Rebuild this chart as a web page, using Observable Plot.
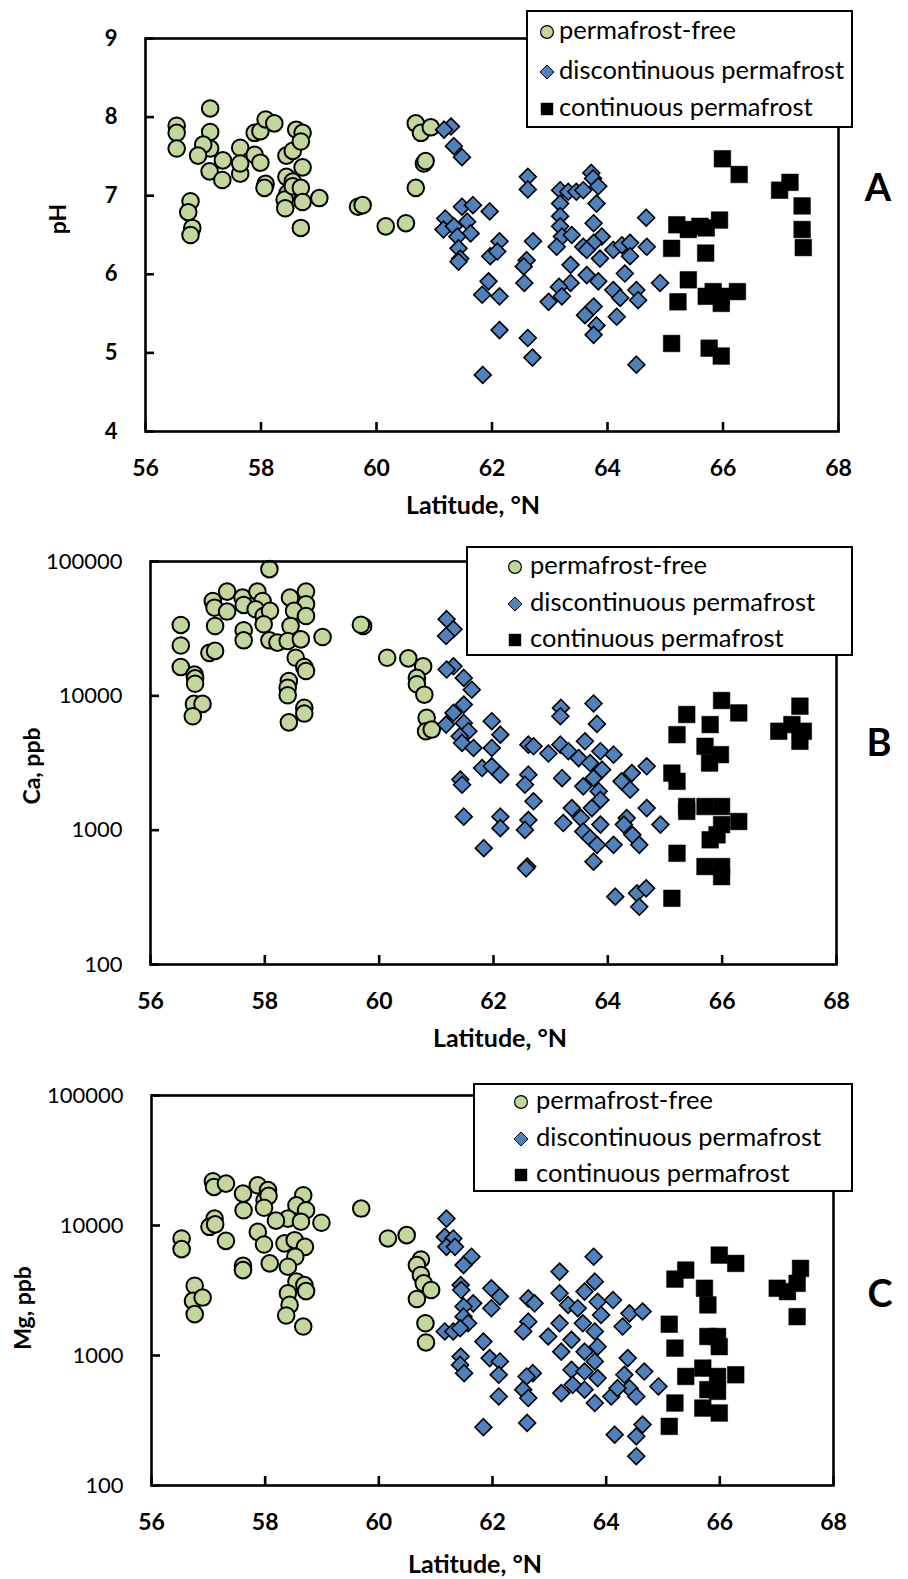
<!DOCTYPE html>
<html><head><meta charset="utf-8">
<script src="https://cdn.jsdelivr.net/npm/d3@7"></script>
<script src="https://cdn.jsdelivr.net/npm/@observablehq/plot@0.6"></script>
<style>
html,body{margin:0;padding:0;background:#fff;}
#root{position:relative;width:908px;height:1579px;overflow:hidden;font-family:Lato,"Open Sans",sans-serif;color:#000;}
.panel{position:absolute;left:0;}
.lbl{position:absolute;font-weight:bold;font-size:25px;white-space:nowrap;transform:translate(-50%,-50%);line-height:1;}
.ylbl{font-size:23px;transform:translate(-50%,-50%) rotate(-90deg);}
.letter{position:absolute;font-weight:bold;font-size:38px;transform:translate(-50%,-50%);line-height:1;}
.legend{position:absolute;background:#fff;border:2px solid #000;box-sizing:border-box;z-index:5;}
.item{position:absolute;font-size:25.5px;white-space:nowrap;transform:translateY(-50%);line-height:1;}
.mk{position:absolute;}
</style></head>
<body><div id="root"></div>
<script>
// ---------- data: [latitude °N, value] ----------
const latTicks = [56, 58, 60, 62, 64, 66, 68];
const pHTicks = [4, 5, 6, 7, 8, 9];
const ppbTicks = [100, 1000, 10000, 100000];
const groupNames = ["permafrost-free", "discontinuous permafrost", "continuous permafrost"];

const pH_free = [[56.54,7.89],[56.54,7.80],[56.54,7.60],[57.12,8.11],[57.12,7.81],[57.12,7.60],[57.00,7.65],[56.91,7.51],[57.11,7.31],[57.33,7.20],[57.34,7.45],[57.64,7.61],[57.64,7.28],[57.64,7.41],[57.89,7.52],[57.99,7.42],[57.89,7.80],[57.99,7.82],[58.08,7.97],[58.23,7.92],[58.08,7.15],[58.06,7.10],[58.44,7.51],[58.55,7.57],[58.61,7.84],[58.72,7.80],[58.69,7.69],[58.72,7.36],[58.44,7.24],[58.55,7.18],[58.46,7.03],[58.41,6.95],[58.42,6.84],[58.55,7.12],[58.69,7.10],[58.72,6.92],[59.01,6.97],[58.69,6.59],[56.78,6.93],[56.74,6.79],[56.81,6.59],[56.78,6.50],[59.68,6.86],[59.76,6.88],[60.16,6.61],[60.51,6.65],[60.68,7.10],[60.68,7.92],[60.77,7.80],[60.94,7.87],[60.82,7.41],[60.85,7.44]];
const pH_disc = [[61.29,7.88],[61.17,7.84],[61.34,7.63],[61.48,7.49],[62.62,7.24],[62.62,7.08],[61.19,6.71],[61.48,6.86],[61.67,6.88],[61.96,6.80],[61.16,6.57],[61.34,6.61],[61.57,6.67],[61.63,6.52],[61.40,6.48],[61.42,6.33],[61.45,6.20],[61.42,6.16],[62.13,6.42],[61.97,6.23],[62.09,6.29],[62.71,6.42],[62.60,6.18],[62.55,6.10],[61.94,5.91],[61.83,5.74],[62.13,5.72],[62.56,5.89],[62.13,5.29],[62.62,5.19],[62.70,4.94],[61.84,4.72],[63.18,7.07],[63.32,7.05],[63.46,7.05],[63.58,7.07],[63.72,7.29],[63.75,7.22],[63.84,7.12],[63.18,6.90],[63.81,6.90],[63.18,6.74],[63.18,6.61],[63.21,6.48],[63.38,6.50],[63.12,6.35],[63.76,6.65],[63.90,6.48],[63.76,6.40],[63.58,6.35],[63.87,6.20],[63.64,6.31],[63.36,6.12],[63.64,5.99],[63.84,5.91],[63.36,5.89],[63.16,5.84],[62.98,5.65],[63.21,5.72],[64.10,6.31],[64.25,6.37],[64.39,6.40],[64.39,6.23],[64.68,6.35],[64.30,6.01],[64.10,5.80],[64.22,5.70],[64.50,5.80],[64.53,5.67],[64.91,5.89],[64.67,6.72],[63.61,5.48],[63.76,5.59],[63.81,5.35],[63.76,5.23],[64.16,5.46],[64.50,4.85]];
const pH_cont = [[65.99,7.47],[66.28,7.27],[66.98,7.07],[67.16,7.17],[67.37,6.87],[67.37,6.57],[67.39,6.34],[65.20,6.63],[65.40,6.57],[65.60,6.61],[65.71,6.59],[65.94,6.69],[65.11,6.33],[65.70,6.27],[65.40,5.93],[65.22,5.65],[65.71,5.72],[65.83,5.78],[65.97,5.72],[65.97,5.63],[66.25,5.78],[65.11,5.12],[65.76,5.06],[65.97,4.96]];

const Ca_free = [[58.08,87700],[57.34,59700],[57.09,50800],[57.12,45300],[57.34,42400],[57.61,53800],[57.63,47500],[57.87,59700],[57.96,50800],[57.84,44100],[57.98,39300],[58.09,42900],[57.98,34100],[58.44,53800],[58.72,59700],[58.72,48100],[58.51,42900],[58.72,39300],[58.45,33100],[56.53,33700],[56.53,23700],[56.53,16400],[57.13,33100],[57.63,30800],[57.63,25900],[57.03,20900],[57.13,21600],[58.08,25900],[58.22,24900],[58.40,25600],[58.63,26300],[59.01,27400],[58.54,19200],[58.69,16400],[58.72,15300],[56.77,14400],[56.78,13500],[56.78,12300],[58.42,12900],[58.40,11500],[58.40,10100],[56.76,8710],[56.91,8710],[56.74,7050],[58.69,8130],[58.69,7380],[58.42,6350],[59.72,33100],[59.68,33800],[60.14,19200],[60.51,19000],[60.77,16600],[60.66,13600],[60.66,12200],[60.79,10200],[60.83,6860],[60.82,5450],[60.92,5610]];
const Ca_disc = [[61.18,37200],[61.30,31300],[61.17,27900],[61.30,16600],[61.18,15700],[61.48,13600],[61.62,11100],[61.48,8610],[61.30,7460],[61.48,6290],[61.17,6110],[61.56,5450],[61.41,5000],[61.45,4460],[61.97,6470],[62.12,5140],[61.65,4090],[61.97,4090],[61.80,2900],[61.97,2990],[62.12,2590],[61.42,2380],[61.45,2180],[61.48,1260],[62.12,1260],[62.12,1035],[61.83,735],[62.61,4330],[62.70,4210],[62.61,2590],[62.55,2180],[62.70,1640],[62.61,1190],[62.55,1005],[62.59,536],[62.57,520],[63.18,8130],[63.75,8770],[63.17,7050],[63.81,6180],[62.96,3720],[63.17,4330],[63.31,3870],[63.60,4590],[63.49,3440],[63.87,3870],[64.10,3650],[63.69,3160],[63.90,2820],[63.75,2440],[63.20,2440],[63.57,2120],[63.84,1950],[63.87,1680],[63.37,1460],[63.72,1460],[63.22,1130],[63.53,1230],[63.87,1100],[63.57,977],[63.69,871],[63.81,778],[63.75,583],[64.10,778],[64.33,1230],[64.28,1100],[64.43,923],[64.55,778],[64.68,1460],[64.92,1100],[64.42,2660],[64.24,2310],[64.39,2000],[64.68,2990],[64.13,320],[64.51,339],[64.67,369],[64.55,269]];
const Ca_cont = [[65.99,9230],[66.29,7460],[65.38,7260],[67.36,8380],[66.99,5450],[67.22,6110],[67.42,5450],[67.36,4590],[65.79,6110],[65.21,5140],[65.70,4210],[65.97,3650],[65.78,3160],[65.12,2660],[65.21,2310],[65.38,1500],[65.38,1380],[65.70,1500],[65.99,1500],[66.29,1160],[65.99,1100],[65.79,848],[65.91,923],[65.21,673],[65.70,536],[65.99,536],[65.99,451],[65.12,311]];

const Mg_free = [[57.08,21900],[57.10,19800],[57.31,21000],[57.61,17600],[57.87,20400],[58.05,18700],[57.99,15600],[58.06,16900],[57.98,13700],[57.62,13100],[58.67,17100],[58.55,14300],[58.72,13100],[58.40,11300],[58.19,10900],[58.63,10700],[58.99,10500],[57.11,11300],[57.02,9770],[57.12,10200],[56.53,7950],[56.53,6580],[57.31,7620],[57.87,8930],[57.98,7140],[58.34,7280],[58.52,7710],[58.70,6850],[58.53,5750],[58.40,4820],[58.08,5110],[57.61,4900],[57.61,4540],[58.55,3700],[58.69,3480],[58.72,3130],[58.40,3010],[58.43,2450],[58.37,2030],[58.67,1670],[56.76,3440],[56.73,2630],[56.90,2790],[56.76,2080],[59.69,13500],[60.16,7950],[60.49,8430],[60.74,5480],[60.67,4960],[60.74,4160],[60.79,3590],[60.92,3190],[60.67,2720],[60.82,1770],[60.83,1260]];
const Mg_disc = [[61.19,11300],[61.16,8180],[61.31,7950],[61.19,6850],[61.34,6850],[61.63,5750],[61.49,4960],[61.44,3480],[61.45,3190],[61.66,2520],[61.49,2380],[61.49,1990],[61.57,1770],[61.16,1530],[61.31,1530],[61.43,1620],[61.84,1280],[61.44,982],[61.43,847],[61.50,731],[61.98,3290],[62.13,2840],[61.98,2310],[61.95,955],[62.13,900],[62.11,711],[62.11,484],[61.84,281],[62.63,2750],[62.74,2520],[62.63,1820],[62.54,1530],[62.71,731],[62.60,690],[62.54,546],[62.63,471],[62.61,303],[63.78,5750],[63.18,4420],[63.80,3700],[63.18,3010],[63.62,3100],[63.85,2590],[64.12,2670],[63.33,2450],[63.50,2310],[63.91,2050],[63.18,1770],[62.98,1400],[63.39,1320],[63.59,1770],[63.80,1530],[63.85,1170],[63.21,1070],[63.62,1070],[63.80,900],[63.39,776],[63.62,753],[63.85,670],[63.21,514],[63.62,546],[63.80,431],[63.41,595],[64.41,2110],[64.64,2180],[64.29,1670],[64.38,955],[64.32,711],[64.67,753],[64.41,561],[64.53,484],[64.09,484],[64.20,561],[64.92,578],[64.15,246],[64.64,294],[64.53,239],[64.53,168]];
const Mg_cont = [[65.99,5920],[66.28,5110],[65.40,4540],[65.21,3870],[65.73,3290],[65.79,2450],[67.42,4680],[67.36,3590],[67.01,3290],[67.19,3100],[67.36,1990],[65.11,1740],[65.79,1400],[65.96,1400],[65.99,1170],[65.21,1140],[65.40,690],[65.70,800],[66.28,711],[65.96,690],[65.79,546],[65.96,530],[65.21,431],[65.70,394],[65.99,361],[65.11,285]];

// ---------- styling ----------
const GREEN = "#c3d69b", BLUE = "#4f81bd", BLACK = "#000";
const root = document.getElementById("root");

function panel({top, height, mt, mb, ml, mr, yType, yDomain, yTicks, yBold, free, disc, cont}) {
  const chart = Plot.plot({
    width: 908, height,
    marginTop: mt, marginBottom: mb, marginLeft: ml, marginRight: mr,
    style: {fontFamily: "Lato, 'Open Sans', sans-serif", color: "#000", background: "transparent", overflow: "visible"},
    x: {domain: [56, 68]},
    y: {type: yType, domain: yDomain},
    marks: [
      Plot.dot(free, {x: d => d[0], y: d => d[1], symbol: "circle", r: 8.3, fill: GREEN, stroke: "#000", strokeWidth: 2}),
      Plot.dot(disc, {x: d => d[0], y: d => d[1], symbol: "diamond2", r: 7.6, fill: BLUE, stroke: "#000", strokeWidth: 1.6}),
      Plot.dot(cont, {x: d => d[0], y: d => d[1], symbol: "square", r: 9.4, fill: BLACK, stroke: "#000", strokeWidth: 0.5}),
      Plot.frame({stroke: "#000", strokeWidth: 2.6}),
      // inward tick marks (shifted into the frame)
      Plot.axisX(latTicks, {tickSize: 9, dy: -9, strokeWidth: 2.6, label: null, tickFormat: () => ""}),
      Plot.axisY(yTicks, {tickSize: 9, dx: 9, strokeWidth: 2.6, label: null, tickFormat: () => ""}),
      // tick labels
      Plot.axisX(latTicks, {tickSize: 0, tickPadding: 28, fontSize: 23, fontWeight: "bold", label: null, tickFormat: d => String(d)}),
      Plot.axisY(yTicks, {tickSize: 0, tickPadding: 28, fontSize: 22, fontWeight: yBold ? "bold" : "normal", label: null, tickFormat: d => String(d)})
    ]
  });
  const div = document.createElement("div");
  div.className = "panel";
  div.style.top = top + "px";
  div.appendChild(chart);
  root.appendChild(div);
}

function label(text, x, y, cls) {
  const d = document.createElement("div");
  d.className = cls;
  d.style.left = x + "px"; d.style.top = y + "px";
  d.textContent = text;
  root.appendChild(d);
}

function markerSVG(kind) {
  let shape;
  if (kind === 0) shape = `<circle cx="8" cy="8" r="6.4" fill="${GREEN}" stroke="#000" stroke-width="1.2"/>`;
  else if (kind === 1) shape = `<path d="M8 1 L15 8 L8 15 L1 8 Z" fill="${BLUE}" stroke="#000" stroke-width="1"/>`;
  else shape = `<rect x="1.8" y="1.8" width="12.4" height="12.4" fill="#000"/>`;
  return `<svg width="16" height="16" viewBox="0 0 16 16">${shape}</svg>`;
}

function legend({left, top, width, height, rows, mx, tx}) {
  const box = document.createElement("div");
  box.className = "legend";
  Object.assign(box.style, {left: left + "px", top: top + "px", width: width + "px", height: height + "px"});
  groupNames.forEach((name, i) => {
    const m = document.createElement("div");
    m.className = "mk";
    m.style.left = (mx - 8) + "px"; m.style.top = (rows[i] - 8) + "px";
    m.style.width = "16px"; m.style.height = "16px";
    m.innerHTML = markerSVG(i);
    box.appendChild(m);
    const t = document.createElement("div");
    t.className = "item";
    t.style.left = tx + "px"; t.style.top = (rows[i] - 2) + "px";
    t.textContent = name;
    box.appendChild(t);
  });
  root.appendChild(box);
}

// Panel A (pH)
panel({top: 0, height: 530, mt: 38, mb: 99, ml: 145, mr: 70, yType: "linear", yDomain: [4, 9], yTicks: pHTicks, yBold: true, free: pH_free, disc: pH_disc, cont: pH_cont});
// Panel B (Ca)
panel({top: 530, height: 530, mt: 31, mb: 96, ml: 150, mr: 72, yType: "log", yDomain: [100, 100000], yTicks: ppbTicks, yBold: false, free: Ca_free, disc: Ca_disc, cont: Ca_cont});
// Panel C (Mg)
panel({top: 1060, height: 519, mt: 35, mb: 94, ml: 151, mr: 75, yType: "log", yDomain: [100, 100000], yTicks: ppbTicks, yBold: false, free: Mg_free, disc: Mg_disc, cont: Mg_cont});

label("Latitude, °N", 473, 504, "lbl");
label("Latitude, °N", 500, 1037, "lbl");
label("Latitude, °N", 475, 1563, "lbl");
label("pH", 57, 219, "lbl ylbl");
label("Ca, ppb", 31, 766, "lbl ylbl");
label("Mg, ppb", 22, 1308, "lbl ylbl");
label("A", 878, 186, "letter");
label("B", 879, 741, "letter");
label("C", 880, 1292, "letter");

legend({left: 526, top: 10, width: 327, height: 118, rows: [20, 60, 97], mx: 19, tx: 31});
legend({left: 466, top: 546, width: 387, height: 110, rows: [19, 56, 92], mx: 47, tx: 62});
legend({left: 473, top: 1083, width: 380, height: 109, rows: [17, 54, 90], mx: 46, tx: 61});
</script>
</body></html>
